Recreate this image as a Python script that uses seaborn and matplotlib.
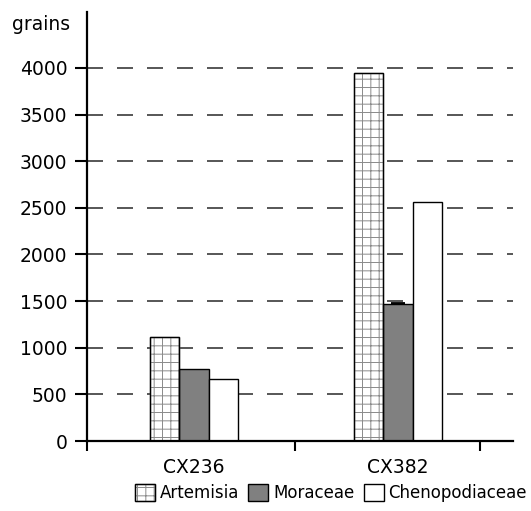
import matplotlib
matplotlib.use('Agg')
import matplotlib.pyplot as plt
import seaborn as sns
import pandas as pd
from matplotlib.patches import Patch, Rectangle
from matplotlib.legend_handler import HandlerTuple

# ---- data ----
sites = ['CX236', 'CX382']
taxa = ['Artemisia', 'Moraceae', 'Chenopodiaceae']
artemisia = [1115, 3950]
moraceae = [772, 1465]
chenopodiaceae = [665, 2560]
moraceae_err = [0, 15]
yticks = [0, 500, 1000, 1500, 2000, 2500, 3000, 3500, 4000]
ylabel = 'grains'

df = pd.DataFrame({
    'site': sites * 3,
    'taxon': [t for t in taxa for _ in sites],
    'grains': artemisia + moraceae + chenopodiaceae,
})

sns.set_style('ticks')
plt.rcParams['font.family'] = ['DejaVu Sans']
plt.rcParams['text.color'] = 'black'
plt.rcParams['hatch.linewidth'] = 0.7

W, H = 531, 511
fig = plt.figure(figsize=(W / 100, H / 100), dpi=100)
ax = fig.add_axes([87 / W, 1 - 441 / H, (513 - 87) / W, 429 / H])

sns.barplot(data=df, x='site', y='grains', hue='taxon', hue_order=taxa,
            order=sites,
            palette={'Artemisia': 'white', 'Moraceae': '#808080',
                     'Chenopodiaceae': 'white'},
            width=0.43, edgecolor='black', linewidth=1.0, saturation=1,
            errorbar=None, legend=False, ax=ax)

# hatch Artemisia bars (gray grid) with black outline
for bar in ax.containers[0]:
    bar.set_hatch('++')
    bar.set_edgecolor('#8a8a8a')
    ax.add_patch(Rectangle(bar.get_xy(), bar.get_width(), bar.get_height(),
                           fill=False, ec='black', lw=1.0,
                           zorder=bar.get_zorder() + 0.1))

# small error cap on Moraceae
for bar, e in zip(ax.containers[1], moraceae_err):
    if e:
        ax.errorbar(bar.get_x() + bar.get_width() / 2, bar.get_height(),
                    yerr=[[0], [e]], color='black', capsize=5, lw=1,
                    capthick=1.3)

ax.set_xlim(-0.5245, 1.564)
ax.set_ylim(0, 4600)
ax.set_yticks(yticks)
ax.set_xlabel('')
ax.set_ylabel('')
sns.despine(ax=ax)
for s in ['left', 'bottom']:
    ax.spines[s].set_linewidth(1.6)
    ax.spines[s].set_color('black')

ax.set_xticks([-0.5245, 0.495, 1.402], minor=True)
ax.tick_params(axis='x', which='major', length=0, pad=12, labelsize=13.5,
               colors='black')
ax.tick_params(axis='x', which='minor', length=7, width=1.5, direction='out',
               color='black')
ax.tick_params(axis='y', length=9, width=1.5, pad=5, labelsize=13.5,
               colors='black')

ax.yaxis.grid(True, linestyle=(0, (9.6, 8.4)), lw=1.2, color='#3a3a3a')
ax.set_axisbelow(True)

fig.text(12 / W, 1 - 24 / H, ylabel, va='center', ha='left', fontsize=13.5,
         color='black')

h_art = (Patch(fc='white', ec='#8a8a8a', hatch='++'),
         Patch(fill=False, ec='black', lw=1))
h_mor = Patch(fc='#808080', ec='black', lw=1)
h_che = Patch(fc='white', ec='black', lw=1)
fig.legend([h_art, h_mor, h_che], taxa, loc='center right',
           bbox_to_anchor=(527 / W, 1 - 493 / H), ncol=3, frameon=False,
           fontsize=12, handlelength=1.2, handleheight=1.15,
           handletextpad=0.3, columnspacing=0.55, borderpad=0,
           borderaxespad=0, labelcolor='black',
           handler_map={tuple: HandlerTuple(ndivide=1, pad=0)})

fig.savefig('out.png', dpi=100)
